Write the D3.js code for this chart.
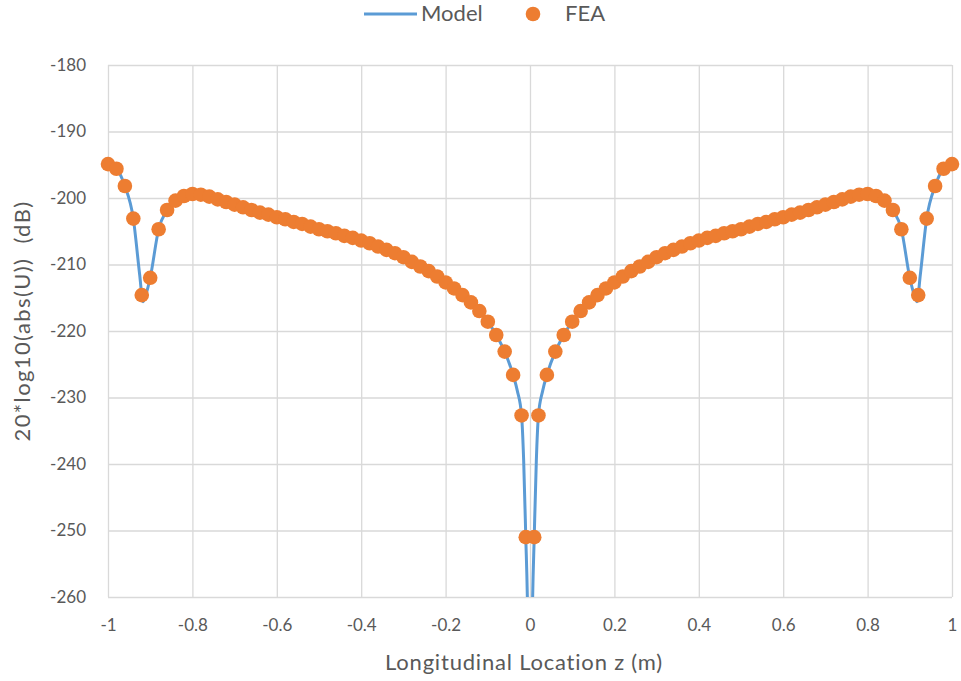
<!DOCTYPE html>
<html>
<head>
<meta charset="utf-8">
<script src="https://cdn.jsdelivr.net/npm/d3@7.9.0/dist/d3.min.js"></script>
<style>
  body { margin: 0; background: #fff; }
  svg { display: block; font-family: Lato, "Open Sans", sans-serif; }
</style>
</head>
<body>
<svg id="chart" width="961" height="681"></svg>
<script>
// FEA sample locations (m) and levels (dB)
const feaZ = [
  -1.00, -0.98, -0.96, -0.94, -0.92, -0.90, -0.88, -0.86, -0.84, -0.82,
  -0.80, -0.78, -0.76, -0.74, -0.72, -0.70, -0.68, -0.66, -0.64, -0.62,
  -0.60, -0.58, -0.56, -0.54, -0.52, -0.50, -0.48, -0.46, -0.44, -0.42,
  -0.40, -0.38, -0.36, -0.34, -0.32, -0.30, -0.28, -0.26, -0.24, -0.22,
  -0.20, -0.18, -0.16, -0.14, -0.12, -0.10, -0.08, -0.06, -0.04, -0.02,
  -0.01, 0.01,
  0.02, 0.04, 0.06, 0.08, 0.10, 0.12, 0.14, 0.16, 0.18, 0.20,
  0.22, 0.24, 0.26, 0.28, 0.30, 0.32, 0.34, 0.36, 0.38, 0.40,
  0.42, 0.44, 0.46, 0.48, 0.50, 0.52, 0.54, 0.56, 0.58, 0.60,
  0.62, 0.64, 0.66, 0.68, 0.70, 0.72, 0.74, 0.76, 0.78, 0.80,
  0.82, 0.84, 0.86, 0.88, 0.90, 0.92, 0.94, 0.96, 0.98, 1.00
];
const feaDb = [
  -194.9, -195.6, -198.2, -203.1, -214.6, -212.0, -204.7, -201.8, -200.4, -199.7,
  -199.4, -199.5, -199.8, -200.2, -200.6, -201.0, -201.4, -201.8, -202.2, -202.5,
  -202.9, -203.2, -203.6, -203.9, -204.3, -204.7, -205.0, -205.3, -205.7, -206.0,
  -206.4, -206.8, -207.3, -207.8, -208.3, -208.9, -209.6, -210.3, -211.0, -211.8,
  -212.7, -213.6, -214.6, -215.7, -217.0, -218.6, -220.6, -223.1, -226.6, -232.7,
  -251.0, -251.0,
  -232.7, -226.6, -223.1, -220.6, -218.6, -217.0, -215.7, -214.6, -213.6, -212.7,
  -211.8, -211.0, -210.3, -209.6, -208.9, -208.3, -207.8, -207.3, -206.8, -206.4,
  -206.0, -205.7, -205.3, -205.0, -204.7, -204.3, -203.9, -203.6, -203.2, -202.9,
  -202.5, -202.2, -201.8, -201.4, -201.0, -200.6, -200.2, -199.8, -199.5, -199.4,
  -199.7, -200.4, -201.8, -204.7, -212.0, -214.6, -203.1, -198.2, -195.6, -194.9
];

// Model curve (denser near the notches and the centre)
const modelZ = [
  -1.00, -0.98, -0.96, -0.94, -0.925, -0.917, -0.91, -0.90, -0.88, -0.86, -0.84, -0.82,
  -0.80, -0.76, -0.72, -0.68, -0.64, -0.60, -0.56, -0.52, -0.48, -0.44,
  -0.40, -0.36, -0.32, -0.28, -0.24, -0.20, -0.16, -0.12, -0.10, -0.08,
  -0.06, -0.04, -0.03, -0.02, -0.015, -0.01, -0.006, -0.003,
  0.003, 0.006, 0.01, 0.015, 0.02, 0.03, 0.04, 0.06,
  0.08, 0.10, 0.12, 0.16, 0.20, 0.24, 0.28, 0.32, 0.36, 0.40,
  0.44, 0.48, 0.52, 0.56, 0.60, 0.64, 0.68, 0.72, 0.76, 0.80,
  0.82, 0.84, 0.86, 0.88, 0.90, 0.91, 0.917, 0.925, 0.94, 0.96, 0.98, 1.00
];
const modelDb = [
  -194.9, -195.6, -198.2, -203.1, -211.5, -215.6, -214.5, -212.0, -204.7, -201.8, -200.4, -199.7,
  -199.4, -199.8, -200.6, -201.4, -202.2, -202.9, -203.6, -204.3, -205.0, -205.7,
  -206.4, -207.3, -208.3, -209.6, -211.0, -212.7, -214.6, -217.0, -218.6, -220.6,
  -223.1, -226.6, -229.0, -232.7, -239.5, -251.0, -261.0, -275.0,
  -275.0, -261.0, -251.0, -239.5, -232.7, -229.0, -226.6, -223.1,
  -220.6, -218.6, -217.0, -214.6, -212.7, -211.0, -209.6, -208.3, -207.3, -206.4,
  -205.7, -205.0, -204.3, -203.6, -202.9, -202.2, -201.4, -200.6, -199.8, -199.4,
  -199.7, -200.4, -201.8, -204.7, -212.0, -214.5, -215.6, -211.5, -203.1, -198.2, -195.6, -194.9
];

const xTicks = [-1, -0.8, -0.6, -0.4, -0.2, 0, 0.2, 0.4, 0.6, 0.8, 1];
const xTickLabels = ["-1", "-0.8", "-0.6", "-0.4", "-0.2", "0", "0.2", "0.4", "0.6", "0.8", "1"];
const yTicks = [-180, -190, -200, -210, -220, -230, -240, -250, -260];

const margin = { top: 65, right: 9, bottom: 84, left: 108 };
const width = 961, height = 681;
const innerW = width - margin.left - margin.right;
const innerH = height - margin.top - margin.bottom;

const textColor = "#595959";
const gridColor = "#d9d9d9";
const blue = "#5b9bd5";
const orange = "#ed7d31";

const svg = d3.select("#chart");

const x = d3.scaleLinear().domain([-1, 1]).range([0, innerW]);
const y = d3.scaleLinear().domain([-260, -180]).range([innerH, 0]);

const g = svg.append("g").attr("transform", `translate(${margin.left},${margin.top})`);

// gridlines
g.append("g")
  .call(d3.axisBottom(x).tickValues(xTicks).tickSize(-innerH).tickFormat(""))
  .attr("transform", `translate(0,${innerH})`)
  .call(ax => ax.select(".domain").remove())
  .call(ax => ax.selectAll("line").attr("stroke", gridColor).attr("stroke-width", 1.3));

g.append("g")
  .call(d3.axisLeft(y).tickValues(yTicks).tickSize(-innerW).tickFormat(""))
  .call(ax => ax.select(".domain").remove())
  .call(ax => ax.selectAll("line").attr("stroke", gridColor).attr("stroke-width", 1.3));

// tick labels
g.append("g")
  .attr("transform", `translate(0,${innerH})`)
  .call(d3.axisBottom(x).tickValues(xTicks).tickSize(0).tickPadding(22)
    .tickFormat((d, i) => xTickLabels[i]))
  .call(ax => ax.select(".domain").remove())
  .call(ax => ax.selectAll("text").attr("fill", textColor).style("font-size", "17px")
    .style("font-family", "Lato, sans-serif"));

g.append("g")
  .call(d3.axisLeft(y).tickValues(yTicks).tickSize(0).tickPadding(22)
    .tickFormat(d => String(d)))
  .call(ax => ax.select(".domain").remove())
  .call(ax => ax.selectAll("text").attr("fill", textColor).style("font-size", "17px")
    .style("font-family", "Lato, sans-serif"));

// clip to plot area
svg.append("defs").append("clipPath").attr("id", "plot-clip")
  .append("rect").attr("width", innerW).attr("height", innerH);

const model = modelZ.map((z, i) => ({ z, v: modelDb[i] }));
const fea = feaZ.map((z, i) => ({ z, v: feaDb[i] }));

const line = d3.line()
  .x(d => x(d.z))
  .y(d => y(d.v))
  .curve(d3.curveMonotoneX);

g.append("path")
  .datum(model)
  .attr("clip-path", "url(#plot-clip)")
  .attr("fill", "none")
  .attr("stroke", blue)
  .attr("stroke-width", 3)
  .attr("stroke-linejoin", "round")
  .attr("d", line);

g.append("g")
  .selectAll("circle")
  .data(fea)
  .join("circle")
  .attr("cx", d => x(d.z))
  .attr("cy", d => y(d.v))
  .attr("r", 7.3)
  .attr("fill", orange);

// axis titles
svg.append("text")
  .attr("x", margin.left + innerW / 2 - 6)
  .attr("y", 670)
  .attr("text-anchor", "middle")
  .attr("fill", textColor)
  .style("font-size", "22px")
  .style("letter-spacing", "0.8px")
  .text("Longitudinal Location z (m)");

svg.append("text")
  .attr("transform", `translate(30,321) rotate(-90)`)
  .attr("text-anchor", "middle")
  .attr("fill", textColor)
  .attr("xml:space", "preserve")
  .style("font-size", "22px")
  .style("letter-spacing", "1.4px")
  .style("white-space", "pre")
  .text("20*log10(abs(U))  (dB)");

// legend
const legend = svg.append("g").attr("transform", "translate(0,14)");
legend.append("line")
  .attr("x1", 364).attr("x2", 417).attr("y1", 0).attr("y2", 0)
  .attr("stroke", blue).attr("stroke-width", 3);
legend.append("text")
  .attr("x", 421).attr("y", 7).attr("fill", textColor)
  .style("font-size", "22px").text("Model");
legend.append("circle")
  .attr("cx", 533).attr("cy", 0).attr("r", 7.3).attr("fill", orange);
legend.append("text")
  .attr("x", 565).attr("y", 7).attr("fill", textColor)
  .style("font-size", "22px").text("FEA");
</script>
</body>
</html>
